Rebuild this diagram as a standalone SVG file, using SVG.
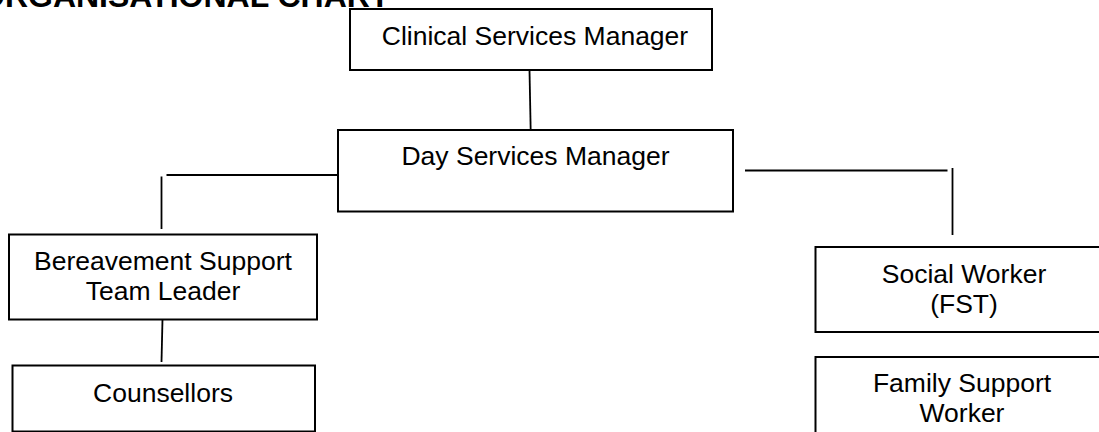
<svg xmlns="http://www.w3.org/2000/svg" width="1099" height="432" viewBox="0 0 1099 432">
<style>
.box{fill:#fff;stroke:#000;stroke-width:2}
.lbl{font-family:"Liberation Sans",Arial,sans-serif;font-size:26.5px;fill:#000;text-anchor:middle}
.title{font-family:"Liberation Sans",Arial,sans-serif;font-size:32px;font-weight:bold;fill:#000}
.conn line{stroke:#000;stroke-width:1.8}
</style>
<rect width="1099" height="432" fill="#fff"/>
<text class="title" x="-20" y="7">ORGANISATIONAL CHART</text>
<g id="connectors" class="conn">
<line x1="529.5" y1="70" x2="530.7" y2="131"/>
<line x1="166.5" y1="175" x2="338" y2="175"/>
<line x1="161.5" y1="176.5" x2="161.5" y2="229"/>
<line x1="162.5" y1="319" x2="161.5" y2="362"/>
<line x1="745" y1="170.5" x2="947.5" y2="170.5"/>
<line x1="952.5" y1="168" x2="952.5" y2="235"/>
</g>
<g id="clinical">
<rect class="box" x="350" y="9" width="362" height="61"/>
<text class="lbl" x="535" y="45">Clinical Services Manager</text>
</g>
<g id="day">
<rect class="box" x="338" y="130" width="395" height="81.5"/>
<text class="lbl" x="535.5" y="165">Day Services Manager</text>
</g>
<g id="bereavement">
<rect class="box" x="9" y="234.5" width="308" height="85"/>
<text class="lbl" x="163" y="270">Bereavement Support</text>
<text class="lbl" x="163" y="300">Team Leader</text>
</g>
<g id="counsellors">
<rect class="box" x="12.5" y="365.5" width="302.5" height="66"/>
<text class="lbl" x="163" y="401.5">Counsellors</text>
</g>
<g id="social">
<rect class="box" x="815.5" y="247" width="300" height="85"/>
<text class="lbl" x="964" y="282.5">Social Worker</text>
<text class="lbl" x="964" y="312.5">(FST)</text>
</g>
<g id="family">
<rect class="box" x="815.5" y="357" width="300" height="90"/>
<text class="lbl" x="962" y="392">Family Support</text>
<text class="lbl" x="962" y="422">Worker</text>
</g>
</svg>
